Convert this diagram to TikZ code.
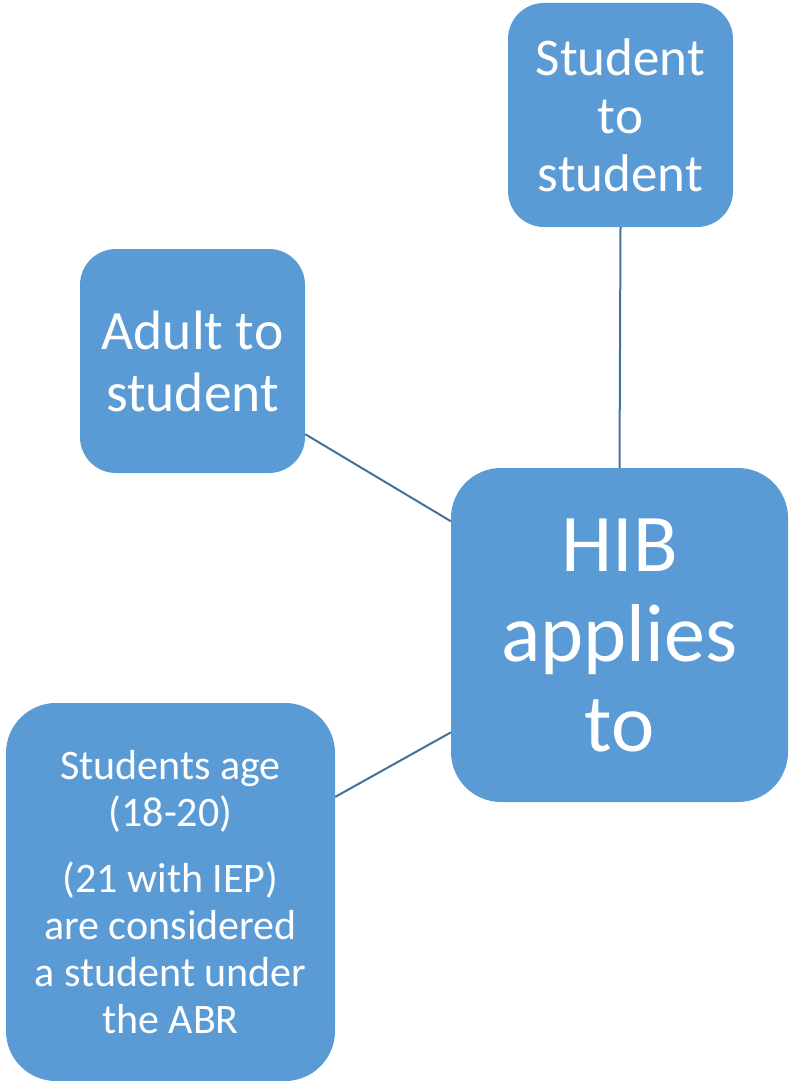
\documentclass[tikz,border=0pt]{standalone}
\usepackage{fontspec}
\setmainfont{Carlito}
\usepackage{xcolor}
\definecolor{boxblue}{HTML}{5B9BD5}
\definecolor{lineblue}{HTML}{41719C}

\begin{document}
\begin{tikzpicture}[x=1pt,y=-1pt,
			box/.style={fill=boxblue,text=white,rounded corners=36pt,align=center,inner sep=0pt},
			link/.style={lineblue,line width=2pt}]
			\useasboundingbox (0,0) rectangle (788,1081);

			\node[box,minimum width=225pt,minimum height=224pt,font=\fontsize{53}{58}\selectfont] (student) at (620.5,115) {Student\\to\\student};
			\node[box,minimum width=225pt,minimum height=224pt,font=\fontsize{55.5}{62}\selectfont] (adult) at (192.5,361) {Adult to\\student};
			\node[box,rounded corners=50pt,minimum width=337pt,minimum height=334pt,font=\fontsize{82}{90}\selectfont] (hib) at (619.5,635) {HIB\\applies\\to};
			\node[box,rounded corners=50pt,minimum width=329pt,minimum height=378pt,font=\fontsize{42}{47}\selectfont] (age) at (170.5,892) {Students age\\(18-20)\\[19pt](21 with IEP)\\are considered\\a student under\\the ABR};

			\draw[link] (student.south) -- (hib.north);
			\draw[link] (adult.-33.3) -- (hib.146.2);
			\draw[link] (age.30) -- (hib.-150.1);
		\end{tikzpicture}
\end{document}
